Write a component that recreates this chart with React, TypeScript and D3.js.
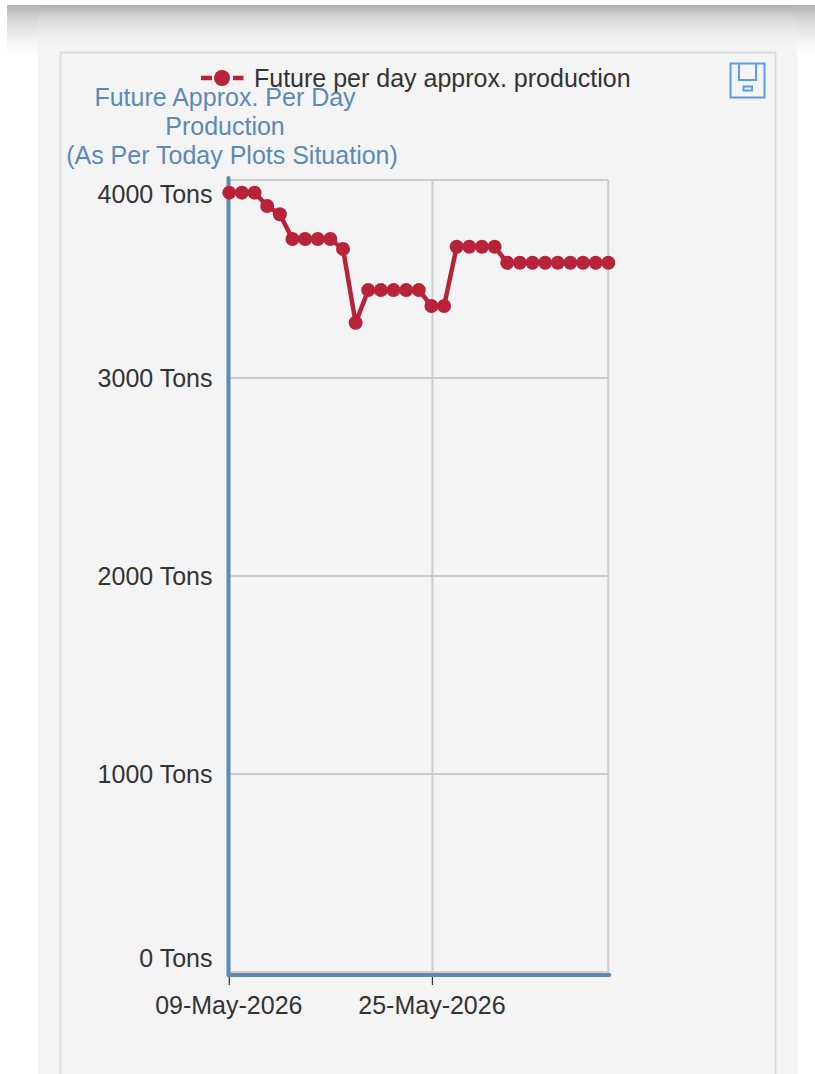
import React from "react";
import * as d3 from "d3";

const production = [
  3936, 3936, 3936, 3869, 3827, 3702, 3702, 3702, 3702, 3652, 3279,
  3444, 3444, 3444, 3444, 3444, 3364, 3364, 3663, 3663, 3663, 3663,
  3582, 3582, 3582, 3582, 3582, 3582, 3582, 3582, 3582,
];
const yTicks = [0, 1000, 2000, 3000, 4000];
const yTickLabels = ["0 Tons", "1000 Tons", "2000 Tons", "3000 Tons", "4000 Tons"];
const xTickIndex = [0, 16];
const xTickLabels = ["09-May-2026", "25-May-2026"];
const titleLines = ["Future Approx. Per Day", "Production", "(As Per Today Plots Situation)"];
const seriesName = "Future per day approx. production";

const FONT = "'Liberation Sans', Arial, sans-serif";
const RED = "#b92339";
const BLUE = "#5b8ab8";
const GRID = "#cccccc";
const AXIS_Y = 975;

export default function App() {
  const x = d3.scaleLinear().domain([0, 30]).range([229.3, 608.3]);
  const y = d3.scaleLinear().domain([0, 4000]).range([972, 180]);
  const line = d3.line<number>().x((_, i) => x(i)).y((d) => y(d));
  const labelY = (v: number) => (v === 0 ? 958 : v === 4000 ? 194 : y(v));

  return (
    <svg
      width={815}
      height={1074}
      viewBox="0 0 815 1074"
      style={{ position: "absolute", left: 0, top: 0, display: "block" }}
      fontFamily={FONT}
    >
      <defs>
        <linearGradient id="shadowSide" x1="0" y1="0" x2="0" y2="1">
          <stop offset="0" stopColor="#b4b4b4" />
          <stop offset="0.3" stopColor="#d8d8d8" />
          <stop offset="0.7" stopColor="#f2f2f2" />
          <stop offset="1" stopColor="#ffffff" />
        </linearGradient>
        <linearGradient id="shadowTop" x1="0" y1="0" x2="0" y2="1">
          <stop offset="0" stopColor="#b0b0b0" />
          <stop offset="0.3" stopColor="#d6d6d6" />
          <stop offset="0.7" stopColor="#eeeeee" />
          <stop offset="1" stopColor="#f4f4f5" />
        </linearGradient>
      </defs>

      <rect x={0} y={0} width={815} height={1074} fill="#ffffff" />
      <rect x={7} y={5} width={808} height={50} fill="url(#shadowSide)" />
      <rect x={38} y={5} width={759} height={1069} fill="#f4f4f5" />
      <rect x={38} y={5} width={759} height={42} fill="url(#shadowTop)" />
      <path d="M60.5,1074V52.5H775.5V1074" fill="none" stroke="#dddddd" strokeWidth={2} />

      {/* save icon */}
      <g fill="none" stroke="#5a9bea" strokeWidth={2}>
        <rect x={730.5} y={63.5} width={34} height={34} />
        <path d="M739,63.5V80H756V63.5" />
        <rect x={743.5} y={86.5} width={8.5} height={4} />
      </g>

      {/* grid */}
      <g stroke={GRID} strokeWidth={2} fill="none">
        {yTicks.map((t) => (
          <line key={t} x1={x(0)} x2={x(30)} y1={y(t)} y2={y(t)} />
        ))}
        {xTickIndex.slice(1).map((i) => (
          <line key={i} x1={x(i) + 1} x2={x(i) + 1} y1={y(4000)} y2={AXIS_Y} />
        ))}
        <line x1={x(30)} x2={x(30)} y1={y(4000)} y2={AXIS_Y} />
      </g>

      {/* axes */}
      <g stroke={BLUE} strokeWidth={4} fill="none" strokeLinecap="round">
        <line x1={x(0) - 0.8} x2={x(0) - 0.8} y1={178} y2={AXIS_Y} />
        <line x1={x(0) - 0.8} x2={x(30) + 1} y1={AXIS_Y} y2={AXIS_Y} />
      </g>
      <g stroke="#333333" strokeWidth={1.2}>
        {xTickIndex.map((i, k) => (
          <line key={i} x1={x(i) + k} x2={x(i) + k} y1={977} y2={985} />
        ))}
      </g>

      {/* tick labels */}
      <g fill="#333333" fontSize={25} textAnchor="end" dominantBaseline="central">
        {yTicks.map((t, i) => (
          <text key={t} x={212.5} y={labelY(t)}>
            {yTickLabels[i]}
          </text>
        ))}
      </g>
      <g fill="#333333" fontSize={25} textAnchor="middle" dominantBaseline="central">
        {xTickIndex.map((t, i) => (
          <text key={t} x={x(t) + (i === 0 ? -0.5 : 0.5)} y={1005}>
            {xTickLabels[i]}
          </text>
        ))}
      </g>

      {/* series */}
      <path d={line(production) ?? ""} fill="none" stroke={RED} strokeWidth={4.5} strokeLinejoin="round" />
      <g fill={RED}>
        {production.map((d, i) => (
          <circle key={i} cx={x(i)} cy={y(d)} r={7} />
        ))}
      </g>

      {/* legend */}
      <path d="M201,78H212M233,78H243.5" stroke={RED} strokeWidth={4.5} />
      <circle cx={222} cy={78} r={8} fill={RED} />
      <text x={254} y={78} fontSize={25} fill="#333333" dominantBaseline="central">
        {seriesName}
      </text>

      {/* axis title */}
      <g fill={BLUE} fontSize={25} textAnchor="middle" dominantBaseline="central">
        {titleLines.map((l, i) => (
          <text key={l} x={i === 2 ? 232 : 225} y={96.5 + i * 29}>
            {l}
          </text>
        ))}
      </g>
    </svg>
  );
}
